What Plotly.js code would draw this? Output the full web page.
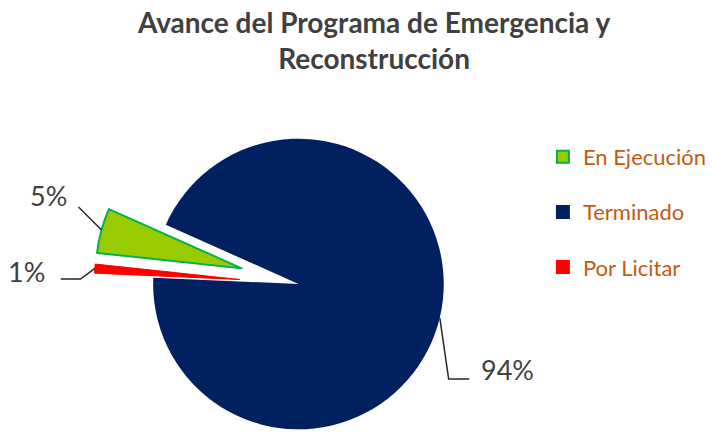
<!DOCTYPE html>
<html>
<head>
<meta charset="utf-8">
<script src="https://cdn.plot.ly/plotly-3.0.1.min.js"></script>
<style>html,body{margin:0;padding:0;background:#fff}#chart{width:712px;height:435px}</style>
</head>
<body>
<div id="chart"></div>
<script>
// ---- data ----
const labels = ['En Ejecución', 'Terminado', 'Por Licitar'];
const values = [5, 94, 1];
const fillColors = ['#99CC00', '#002060', '#FF0000'];
const lineColors = ['#00B050', '#002060', '#FF0000'];
const chartTitle = 'Avance del Programa de Emergencia y<br>Reconstrucción';

// ---- layout geometry (pixels) ----
const W = 712, H = 435;
const CX = 304, CY = 284, R = 148;
const ROTATION = -83.9;            // first slice start, clockwise from 12 o'clock
const pullPx = [60, 0, 60];
const sliceLineWidth = [2, 0, 1];
// label text positions and leader elbows (pixels)
const labelCfg = [
  {tx: 49, ty: 195, xanchor: 'center', elbows: [[80, 207]]},
  {tx: 488, ty: 369, xanchor: 'left', elbows: [[457, 379], [478, 379]]},
  {tx: 48, ty: 271, xanchor: 'right', elbows: [[82, 279], [62, 279]]}
];

const total = values.reduce((a, b) => a + b, 0);
function pt(cx, cy, r, deg) {
  const t = deg * Math.PI / 180;
  return [cx + r * Math.sin(t), cy - r * Math.cos(t)];
}
const mids = [];
let acc = ROTATION;
values.forEach(v => { const span = v / total * 360; mids.push(acc + span / 2); acc += span; });
const px2x = x => x / W, px2y = y => 1 - y / H;

const traces = [];
// legend carriers (tiny, hidden under the dark pie)
labels.forEach((lab, i) => {
  const dx = 330 + i * 4, dy = 350;
  traces.push({
    type: 'pie', labels: [lab], values: [values[i]], sort: false,
    marker: {colors: [fillColors[i]], line: {color: lineColors[i], width: 2}},
    domain: {x: [px2x(dx), px2x(dx + 0.5)], y: [px2y(dy + 0.5), px2y(dy)]},
    textinfo: 'none', hoverinfo: 'label+percent', legendgroup: 'g' + i, showlegend: true
  });
});
// one drawn slice per trace, offset by its pull along the bisector
labels.forEach((lab, i) => {
  const c = pt(CX, CY, pullPx[i], mids[i]);
  traces.push({
    type: 'pie', labels: labels, values: values, sort: false,
    direction: 'clockwise', rotation: ROTATION,
    marker: {
      colors: labels.map((_, j) => j === i ? fillColors[j] : 'rgba(0,0,0,0)'),
      line: {
        color: labels.map((_, j) => j === i ? lineColors[j] : 'rgba(0,0,0,0)'),
        width: labels.map((_, j) => j === i ? sliceLineWidth[j] : 0)
      }
    },
    domain: {x: [px2x(c[0] - R), px2x(c[0] + R)], y: [px2y(c[1] + R), px2y(c[1] - R)]},
    textinfo: 'none', hoverinfo: 'label+percent', showlegend: false
  });
});

const annotations = [], shapes = [];
labels.forEach((lab, i) => {
  const c = pt(CX, CY, pullPx[i], mids[i]);
  const a = pt(c[0], c[1], R, mids[i]);
  const cfg = labelCfg[i];
  const pts = [a].concat(cfg.elbows);
  shapes.push({
    type: 'path', xref: 'paper', yref: 'paper',
    path: pts.map((p, k) => (k ? 'L' : 'M') + px2x(p[0]) + ',' + px2y(p[1])).join(' '),
    line: {color: '#262626', width: 1.5}
  });
  annotations.push({
    xref: 'paper', yref: 'paper', x: px2x(cfg.tx), y: px2y(cfg.ty),
    xanchor: cfg.xanchor, yanchor: 'middle', showarrow: false,
    text: Math.round(values[i] / total * 100) + '%',
    font: {family: 'Lato, sans-serif', size: 27, color: '#404040'}
  });
});

const layout = {
  width: W, height: H,
  margin: {l: 0, r: 0, t: 0, b: 0},
  paper_bgcolor: '#ffffff',
  title: {
    text: chartTitle, x: 381 / W, xanchor: 'center', xref: 'paper',
    y: 1 - 33 / H, yanchor: 'top', yref: 'container',
    font: {family: 'Lato, sans-serif', size: 28, color: '#404040', weight: 700}
  },
  legend: {
    x: 553 / W, xanchor: 'left', y: 1 - 136 / H, yanchor: 'top',
    font: {family: 'Lato, sans-serif', size: 22, color: '#C55A11'},
    tracegroupgap: 23.5, bgcolor: 'rgba(0,0,0,0)'
  },
  annotations: annotations,
  shapes: shapes
};

Plotly.newPlot('chart', traces, layout, {displayModeBar: false, staticPlot: true});
</script>
</body>
</html>
